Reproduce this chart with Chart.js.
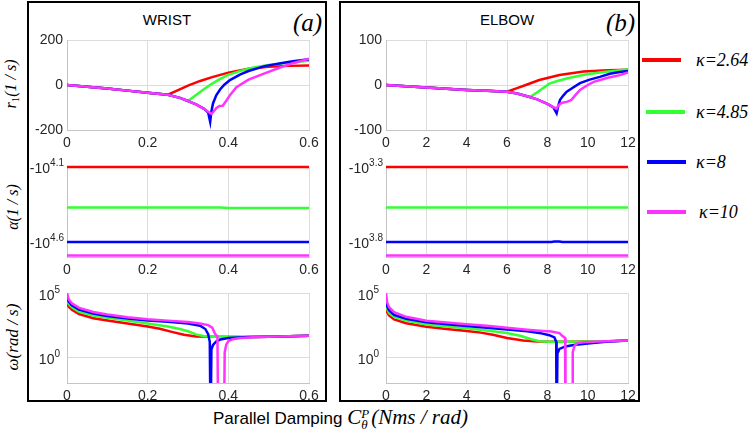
<!DOCTYPE html>
<html><head><meta charset="utf-8">
<script src="https://cdn.jsdelivr.net/npm/chart.js@4.4.1/dist/chart.umd.min.js"></script>
<style>
html,body{margin:0;padding:0;background:#fff}
body{width:750px;height:431px;overflow:hidden;position:relative;font-family:"Liberation Sans",Arial,sans-serif;color:#000}
.frame{position:absolute;border:2px solid #000;box-sizing:border-box}
.ttl{position:absolute;font-size:15px;line-height:16px;white-space:nowrap;transform:translateX(-50%)}
.pl{position:absolute;font-family:"Liberation Serif","Times New Roman",serif;font-style:italic;font-size:25px;line-height:26px;white-space:nowrap}
.yt{position:absolute;font-family:"Liberation Serif","Times New Roman",serif;font-style:italic;font-size:16px;line-height:18px;white-space:nowrap;transform:translate(-50%,-50%) rotate(-90deg)}
.yt sub{font-size:11px;vertical-align:-3px;font-style:normal}
.lg{position:absolute;height:4px}
.lt{position:absolute;font-family:"Liberation Serif","Times New Roman",serif;font-style:italic;font-size:18px;line-height:20px;white-space:nowrap}
.xt{position:absolute;left:213px;top:406px;white-space:nowrap;font-size:17px;line-height:22px}
.xt .s{font-family:"Liberation Serif","Times New Roman",serif;font-style:italic;font-size:21px}
.xt .st{display:inline-block;vertical-align:-5px;line-height:11px;font-size:13px;font-family:"Liberation Serif",serif;font-style:italic;margin-right:2px}
canvas{position:absolute}
</style>
</head><body>
<div class="frame" style="left:27px;top:1px;width:300px;height:401px"></div>
<div class="frame" style="left:339px;top:1px;width:301px;height:401px"></div>
<div class="ttl" style="left:167px;top:12px">WRIST</div>
<div class="ttl" style="left:507px;top:12px">ELBOW</div>
<div class="pl" style="left:293px;top:10px">(a)</div>
<div class="pl" style="left:606px;top:10px">(b)</div>
<div class="yt" style="left:13px;top:84px">r<sub>1</sub>(1 / s)</div>
<div class="yt" style="left:13px;top:207px">α(1 / s)</div>
<div class="yt" style="left:13px;top:337px;font-size:17px">ω(rad / s)</div>
<div class="xt">Parallel Damping <span class="s">C</span><span class="st">P<br>θ</span><span class="s">(Nms / rad)</span></div>
<div id="legend"></div>
<script>
// ---------- series labels & colours ----------
const kappaLabels = ['κ=2.64', 'κ=4.85', 'κ=8', 'κ=10'];
const kappaColors = ['#ff0000', '#33ff33', '#0000ff', '#ff33ff'];

// ---------- tick labels ----------
const wristXTicks = [0, 0.2, 0.4, 0.6];
const elbowXTicks = [0, 2, 4, 6, 8, 10, 12];
const wristR1Ticks = [-200, 0, 200];
const elbowR1Ticks = [-100, 0, 100];
const wristAlphaTickExps = ['4.1', '4.6'];
const elbowAlphaTickExps = ['3.3', '3.8'];
const omegaTickExps = ['0', '5'];

// ---------- WRIST r1 (1/s) : [C, r1] ----------
const wristR1Red = [[0,0],[0.05,-8],[0.1,-16],[0.15,-25],[0.2,-34],[0.25,-43],[0.27,-27],[0.3,-3],[0.33,18],[0.36,35],[0.4,55],[0.45,72],[0.5,81],[0.55,85],[0.6,87]];
const wristR1Green = [[0,0],[0.05,-8],[0.1,-16],[0.15,-25],[0.2,-34],[0.25,-43],[0.28,-57],[0.3,-71],[0.32,-44],[0.34,-18],[0.36,6],[0.38,27],[0.4,45],[0.43,63],[0.46,77],[0.5,89],[0.55,99],[0.6,108]];
const wristR1Blue = [[0,0],[0.05,-8],[0.1,-16],[0.15,-25],[0.2,-34],[0.25,-43],[0.28,-57],[0.3,-71],[0.32,-86],[0.34,-106],[0.35,-122],[0.355,-164],[0.358,-118],[0.362,-82],[0.37,-46],[0.38,-19],[0.39,1],[0.404,22],[0.43,47],[0.45,62],[0.49,84],[0.53,97],[0.56,106],[0.6,115]];
const wristR1Magenta = [[0,0],[0.05,-8],[0.1,-16],[0.15,-25],[0.2,-34],[0.25,-43],[0.28,-57],[0.3,-71],[0.32,-86],[0.34,-106],[0.35,-119],[0.358,-128],[0.362,-121],[0.37,-103],[0.378,-93],[0.386,-92],[0.395,-70],[0.404,-45],[0.42,-10],[0.45,24],[0.49,52],[0.53,79],[0.56,97],[0.6,117]];

// ---------- ELBOW r1 (1/s) ----------
const elbowR1Red = [[0,0],[1,-2.7],[2,-5.5],[3,-8.2],[4,-11],[5,-13],[6,-15],[6.5,-7],[7,1],[7.6,11],[8.6,22],[9.8,30],[11,33],[12,34]];
const elbowR1Green = [[0,0],[1,-2.7],[2,-5.5],[3,-8.2],[4,-11],[5,-13],[6,-15],[6.5,-19],[7.14,-27],[7.5,-16],[8.1,3],[8.5,9],[9,15],[9.95,24],[10.8,29],[11.6,33],[12,35]];
const elbowR1Blue = [[0,0],[1,-2.7],[2,-5.5],[3,-8.2],[4,-11],[5,-13],[6,-15],[6.5,-19],[7,-25],[7.5,-32],[8,-42],[8.3,-50],[8.46,-63],[8.55,-45],[8.63,-33],[8.8,-23],[8.96,-15],[9.3,-5],[9.62,4],[10.1,12],[10.6,18],[11.1,25],[11.6,29],[12,31]];
const elbowR1Magenta = [[0,0],[1,-2.7],[2,-5.5],[3,-8.2],[4,-11],[5,-13],[6,-15],[6.5,-19],[7,-25],[7.5,-32],[8,-42],[8.3,-49],[8.46,-53],[8.55,-45],[8.7,-40],[9,-37],[9.2,-33],[9.4,-22],[9.62,-11],[10,0],[10.3,7],[11,16],[11.6,22],[12,28]];

// ---------- alpha (1/s), constant lines ----------
const wristAlphaX = [0, 0.2, 0.38, 0.4, 0.6];
const wristAlphaRed = [-12590, -12590, -12590, -12590, -12590];
const wristAlphaGreen = [-23440, -23440, -23440, -23650, -23650];
const wristAlphaBlue = [-39810, -39810, -39810, -39810, -39810];
const wristAlphaMagenta = [-48980, -48980, -48980, -48980, -48980];
const elbowAlphaX = [0, 4, 8.2, 8.35, 8.6, 8.75, 12];
const elbowAlphaRed = [-1995, -1995, -1995, -1995, -1995, -1995, -1995];
const elbowAlphaGreen = [-3715, -3715, -3715, -3715, -3715, -3715, -3715];
const elbowAlphaBlue = [-6310, -6310, -6310, -6260, -6260, -6310, -6310];
const elbowAlphaMagenta = [-7762, -7762, -7762, -7762, -7762, -7762, -7762];

// ---------- omega (rad/s), log axis (1e-6 = zero crossing, below axis) ----------
const wristOmegaRed = [[0,2.0e4],[0.004,8.9e3],[0.012,5.0e3],[0.03,2.3e3],[0.065,1.1e3],[0.1,740],[0.15,420],[0.2,250],[0.23,166],[0.26,95],[0.29,56],[0.32,42],[0.36,40],[0.45,38],[0.5,40],[0.55,44],[0.6,47]];
const wristOmegaGreen = [[0,4.0e4],[0.004,1.4e4],[0.012,7.6e3],[0.03,3.5e3],[0.065,1.8e3],[0.1,1.17e3],[0.15,710],[0.2,430],[0.25,250],[0.28,160],[0.3,105],[0.32,60],[0.34,43],[0.36,40],[0.45,38],[0.5,40],[0.55,44],[0.6,47]];
const wristOmegaBlue = [[0,7.0e4],[0.004,2.2e4],[0.012,1.1e4],[0.03,5.2e3],[0.065,2.5e3],[0.1,1.6e3],[0.15,1.05e3],[0.2,740],[0.25,575],[0.3,417],[0.33,282],[0.343,158],[0.35,63],[0.354,16],[0.356,1e-6],[0.358,4],[0.362,9],[0.37,17],[0.38,24],[0.4,32],[0.45,37],[0.5,40],[0.55,44],[0.6,47]];
const wristOmegaMagenta = [[0,1.0e5],[0.004,3.2e4],[0.012,1.6e4],[0.03,7.0e3],[0.065,3.3e3],[0.1,2.1e3],[0.15,1.3e3],[0.2,890],[0.25,710],[0.3,550],[0.33,417],[0.35,316],[0.36,200],[0.366,80],[0.37,50],[0.373,42],[0.375,1e-6],[0.389,1e-6],[0.391,2.5],[0.395,10],[0.4,18],[0.41,25],[0.43,32],[0.46,36],[0.5,40],[0.55,44],[0.6,47]];
const elbowOmegaRed = [[0,7.9e3],[0.05,3.5e3],[0.15,1.8e3],[0.4,890],[1,450],[2,234],[3,158],[4,112],[4.7,83],[5.3,56],[6,32],[6.8,20],[7.5,17],[8,16],[9,16],[10,17],[11,18],[12,20]];
const elbowOmegaGreen = [[0,1.4e4],[0.05,6.3e3],[0.15,2.8e3],[0.4,1.4e3],[1,710],[2,355],[3,250],[4,178],[5,120],[6,76],[6.7,45],[7.2,25],[7.6,18],[8,16],[9,16],[10,17],[11,18],[12,20]];
const elbowOmegaBlue = [[0,2.8e4],[0.05,1.0e4],[0.15,4.5e3],[0.4,2.0e3],[1,1.0e3],[2,525],[3,372],[4,269],[5,200],[6,148],[7,107],[7.6,79],[8.1,52],[8.35,35],[8.44,16],[8.46,1e-6],[8.5,2],[8.6,4.5],[8.9,7],[9.3,9],[10,11.7],[10.9,16],[12,20]];
const elbowOmegaMagenta = [[0,1.0e5],[0.05,2.0e4],[0.15,7.9e3],[0.4,3.2e3],[1,1.4e3],[2,708],[3,500],[4,372],[5,282],[6,200],[7,141],[7.6,117],[8.2,100],[8.6,76],[8.75,45],[8.88,32],[8.9,1e-6],[9.24,1e-6],[9.26,2.5],[9.35,8],[9.5,12.6],[9.8,14.8],[10.5,16.6],[11,18],[12,20]];

// ---------- drawing ----------
const TICK_FONT = '"Liberation Sans", Arial, sans-serif';
const TXT = '#262626', GRID = '#dcdcdc', AXIS = '#c4c4c4';
const PW = 242, PH = 90, PADL = 50, PADT = 12, PADR = 22, PADB = 24;

const expTickPlugin = {
  id: 'expTicks',
  afterDraw(chart, args, opts) {
    if (!opts || !opts.items || !opts.items.length) return;
    const ctx = chart.ctx, ys = chart.scales.y;
    const xr = chart.chartArea.left - opts.gap;
    ctx.save();
    ctx.fillStyle = TXT; ctx.textBaseline = 'middle'; ctx.textAlign = 'right';
    for (const it of opts.items) {
      const py = ys.getPixelForValue(it.value);
      ctx.font = '10px ' + TICK_FONT;
      const ew = ctx.measureText(it.exp).width;
      ctx.fillText(it.exp, xr, py + opts.expDy);
      ctx.font = '14px ' + TICK_FONT;
      ctx.fillText(it.base, xr - ew, py + opts.baseDy);
    }
    ctx.restore();
  }
};

function pairsDatasets(list) {
  return list.map((pts, i) => ({
    label: kappaLabels[i], data: pts.map(p => ({x: p[0], y: p[1]})),
    borderColor: kappaColors[i], backgroundColor: kappaColors[i],
    borderWidth: 2.5, pointRadius: 0, tension: 0, fill: false, order: 3 - i
  }));
}
function alphaDatasets(xs, list) {
  return list.map((vals, i) => ({
    label: kappaLabels[i], data: xs.map((x, j) => ({x: x, y: -vals[j]})),
    borderColor: kappaColors[i], backgroundColor: kappaColors[i],
    borderWidth: 2.5, pointRadius: 0, tension: 0, fill: false, order: 3 - i, clip: 5
  }));
}
function fmt(v) { return String(Math.round(v * 100) / 100); }

function panel(plotLeft, plotTop, datasets, xTicks, yCfg) {
  const c = document.createElement('canvas');
  c.width = PW + PADL + PADR; c.height = PH + PADT + PADB;
  c.style.left = (plotLeft - PADL) + 'px'; c.style.top = (plotTop - PADT) + 'px';
  c.style.width = c.width + 'px'; c.style.height = c.height + 'px';
  document.body.appendChild(c);
  const yScale = Object.assign({
    position: 'left',
    grid: {color: GRID, drawTicks: false, lineWidth: 1},
    border: {color: AXIS},
    afterFit: s => { s.width = PADL; s.paddingTop = 0; s.paddingBottom = 0; },
  }, yCfg.scale);
  new Chart(c, {
    type: 'line',
    data: {datasets: datasets},
    options: {
      responsive: false, animation: false, events: [],
      devicePixelRatio: 1,
      layout: {padding: {left: 0, top: PADT, right: PADR, bottom: 0}, autoPadding: false},
      plugins: {legend: {display: false}, tooltip: {enabled: false}, expTicks: yCfg.exp || {items: []}},
      scales: {
        x: {
          type: 'linear', position: 'bottom', min: xTicks[0], max: xTicks[xTicks.length - 1],
          afterBuildTicks: s => { s.ticks = xTicks.map(v => ({value: v})); },
          afterFit: s => { s.height = PADB; s.paddingLeft = 0; s.paddingRight = 0; },
          grid: {color: GRID, drawTicks: false, lineWidth: 1},
          border: {color: AXIS},
          ticks: {padding: 5, color: TXT, font: {family: TICK_FONT, size: 14}, maxRotation: 0, autoSkip: false, callback: v => fmt(v)}
        },
        y: yScale
      }
    },
    plugins: [expTickPlugin]
  });
}

function linY(ticks) {
  return {scale: {
    type: 'linear', min: ticks[0], max: ticks[ticks.length - 1],
    afterBuildTicks: s => { s.ticks = ticks.map(v => ({value: v})); },
    ticks: {padding: 4, color: TXT, font: {family: TICK_FONT, size: 14}, autoSkip: false, callback: v => String(v)}
  }};
}
function alphaY(exps, lo, hi) {
  const vals = exps.map(e => Math.pow(10, +e));
  return {
    scale: {type: 'logarithmic', reverse: true, min: Math.pow(10, lo), max: Math.pow(10, hi),
      afterBuildTicks: s => { s.ticks = vals.map(v => ({value: v})); },
      ticks: {display: false}},
    exp: {gap: 3, expDy: -4, baseDy: 2, items: exps.map((e, i) => ({value: vals[i], base: '-10', exp: e}))}
  };
}
function omegaY(exps) {
  const vals = exps.map(e => Math.pow(10, +e));
  return {
    scale: {type: 'logarithmic', min: 1e-2, max: 1e5,
      afterBuildTicks: s => { s.ticks = vals.map(v => ({value: v})); },
      ticks: {display: false}},
    exp: {gap: 7, expDy: -3, baseDy: 3, items: exps.map((e, i) => ({value: vals[i], base: '10', exp: e}))}
  };
}

const WL = 67, EL = 386, T1 = 40, T2 = 167, T3 = 293;
panel(WL, T1, pairsDatasets([wristR1Red, wristR1Green, wristR1Blue, wristR1Magenta]), wristXTicks, linY(wristR1Ticks));
panel(EL, T1, pairsDatasets([elbowR1Red, elbowR1Green, elbowR1Blue, elbowR1Magenta]), elbowXTicks, linY(elbowR1Ticks));
panel(WL, T2, alphaDatasets(wristAlphaX, [wristAlphaRed, wristAlphaGreen, wristAlphaBlue, wristAlphaMagenta]), wristXTicks, alphaY(wristAlphaTickExps, 4.1, 4.7));
panel(EL, T2, alphaDatasets(elbowAlphaX, [elbowAlphaRed, elbowAlphaGreen, elbowAlphaBlue, elbowAlphaMagenta]), elbowXTicks, alphaY(elbowAlphaTickExps, 3.3, 3.9));
panel(WL, T3, pairsDatasets([wristOmegaRed, wristOmegaGreen, wristOmegaBlue, wristOmegaMagenta]), wristXTicks, omegaY(omegaTickExps));
panel(EL, T3, pairsDatasets([elbowOmegaRed, elbowOmegaGreen, elbowOmegaBlue, elbowOmegaMagenta]), elbowXTicks, omegaY(omegaTickExps));

// ---------- shared legend ----------
const legendPos = [{lx: 642, y: 60, tx: 696}, {lx: 646, y: 112, tx: 696}, {lx: 647, y: 162, tx: 696}, {lx: 647, y: 212, tx: 699}];
const lg = document.getElementById('legend');
kappaLabels.forEach((lab, i) => {
  const p = legendPos[i];
  const bar = document.createElement('div');
  bar.className = 'lg';
  bar.style.cssText = `left:${p.lx}px;top:${p.y - 2}px;width:39px;background:${kappaColors[i]}`;
  lg.appendChild(bar);
  const t = document.createElement('div');
  t.className = 'lt';
  t.style.cssText = `left:${p.tx}px;top:${p.y - 10}px`;
  t.textContent = lab;
  lg.appendChild(t);
});
</script>
</body></html>
